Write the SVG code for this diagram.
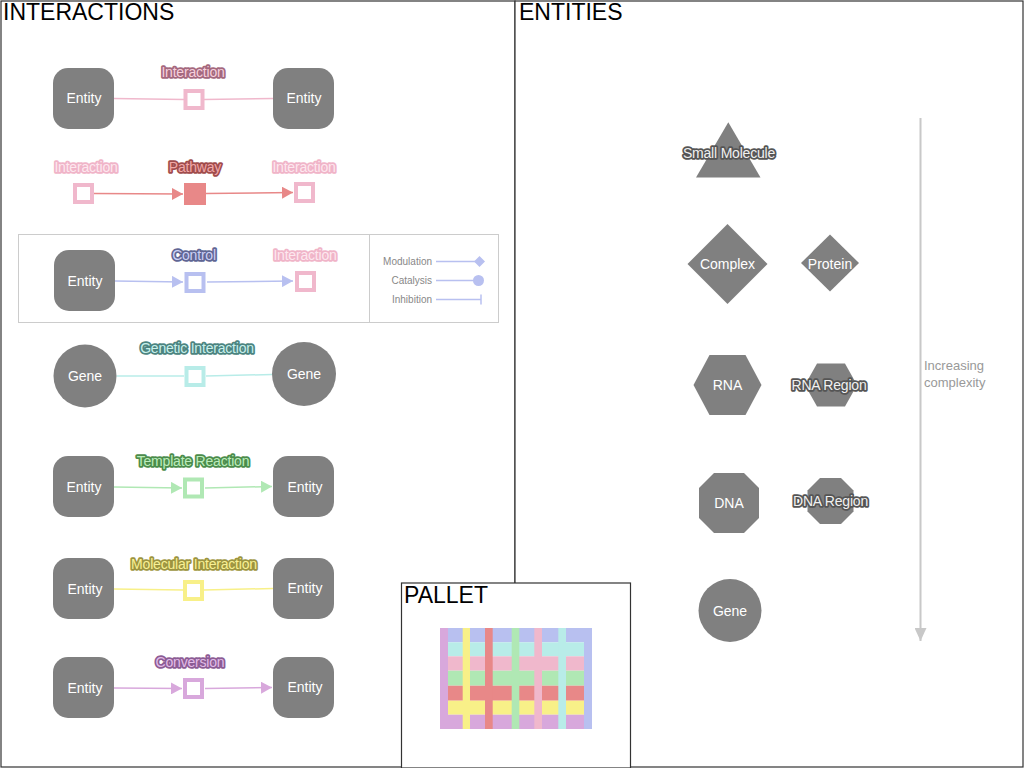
<svg xmlns="http://www.w3.org/2000/svg" width="1024" height="768" viewBox="0 0 1024 768">
<style>
.panel{fill:#fff;stroke:#333;stroke-width:1.2}
.title{font-family:"Liberation Sans",Arial,sans-serif;font-size:23px;fill:#000}
.ent{fill:#808080}
.etxt{font-family:"Liberation Sans",Arial,sans-serif;font-size:14px;fill:#fff;text-anchor:middle}
.lbl{font-family:"Liberation Sans",Arial,sans-serif;font-size:14px;text-anchor:middle;stroke-width:3.5;paint-order:stroke;stroke-linejoin:round;letter-spacing:-0.2px}
.sq{fill:#fff;stroke-width:4}
.leg{font-family:"Liberation Sans",Arial,sans-serif;font-size:10px;fill:#888;text-anchor:end}
.pink{stroke:#f0b8cc}
.red{stroke:#e88888}
.blue{stroke:#b8c0f0}
.cyan{stroke:#b8ece8}
.green{stroke:#b0e8b4}
.yellow{stroke:#f8f088}
.purple{stroke:#d8a8dc}
.ln{fill:none;stroke-width:1.5}
</style>
<defs>
<marker id="arR" markerUnits="userSpaceOnUse" markerWidth="12" markerHeight="12" refX="11" refY="6" orient="auto"><path d="M0,0 L11,6 L0,12 Z" fill="#e88888"/></marker>
<marker id="arB" markerUnits="userSpaceOnUse" markerWidth="12" markerHeight="12" refX="11" refY="6" orient="auto"><path d="M0,0 L11,6 L0,12 Z" fill="#b8c0f0"/></marker>
<marker id="arG" markerUnits="userSpaceOnUse" markerWidth="12" markerHeight="12" refX="11" refY="6" orient="auto"><path d="M0,0 L11,6 L0,12 Z" fill="#b0e8b4"/></marker>
<marker id="arP" markerUnits="userSpaceOnUse" markerWidth="12" markerHeight="12" refX="11" refY="6" orient="auto"><path d="M0,0 L11,6 L0,12 Z" fill="#d8a8dc"/></marker>
<marker id="arGray" markerUnits="userSpaceOnUse" markerWidth="12" markerHeight="14" refX="6" refY="13" orient="0"><path d="M0,0 L12,0 L6,13 Z" fill="#c8c8c8"/></marker>
</defs>
<rect width="1024" height="768" fill="#fff"/>
<g id="panels">
<rect class="panel" x="1" y="1" width="514" height="766"/>
<rect class="panel" x="515" y="1" width="508" height="766"/>
<text class="title" x="3" y="20">INTERACTIONS</text>
<text class="title" x="519" y="20">ENTITIES</text>
</g>
<g id="control-box">
<rect x="18.5" y="234.5" width="480" height="88" fill="none" stroke="#cccccc" stroke-width="1"/>
<line x1="369.5" y1="234.5" x2="369.5" y2="322.5" stroke="#cccccc" stroke-width="1"/>
</g>
<g id="connectors">
<line class="ln pink" x1="114" y1="98.5" x2="184" y2="99.5"/>
<line class="ln pink" x1="204" y1="99.5" x2="273" y2="98.5"/>
<line class="ln red" x1="94" y1="193.5" x2="183" y2="194" marker-end="url(#arR)"/>
<line class="ln red" x1="206" y1="193.5" x2="293" y2="192.5" marker-end="url(#arR)"/>
<line class="ln blue" x1="115" y1="281" x2="183" y2="282" marker-end="url(#arB)"/>
<line class="ln blue" x1="207" y1="282" x2="293" y2="281" marker-end="url(#arB)"/>
<line class="ln cyan" x1="116.5" y1="376" x2="184" y2="376"/>
<line class="ln cyan" x1="206" y1="376" x2="272" y2="374.5"/>
<line class="ln green" x1="114" y1="487" x2="182" y2="488" marker-end="url(#arG)"/>
<line class="ln green" x1="205" y1="488" x2="272" y2="486.5" marker-end="url(#arG)"/>
<line class="ln yellow" x1="114" y1="589" x2="183" y2="590"/>
<line class="ln yellow" x1="204" y1="590" x2="273" y2="588.5"/>
<line class="ln purple" x1="114" y1="688" x2="182" y2="688.5" marker-end="url(#arP)"/>
<line class="ln purple" x1="205" y1="688.5" x2="272" y2="687.5" marker-end="url(#arP)"/>
<line x1="920.5" y1="118" x2="920.5" y2="641" stroke="#c8c8c8" stroke-width="2" marker-end="url(#arGray)"/>
</g>
<g id="row1-entity-a"><rect class="ent" x="53" y="68" width="61" height="61" rx="15"/><text class="etxt" x="84" y="103">Entity</text></g>
<g id="row1-interaction"><rect class="sq pink" x="185.5" y="91" width="17" height="17"/><text class="lbl" x="193" y="77" fill="#f6d0dc" stroke="#a4687e">Interaction</text></g>
<g id="row1-entity-b"><rect class="ent" x="273" y="68" width="61" height="61" rx="15"/><text class="etxt" x="304" y="103">Entity</text></g>
<g id="row2-interaction-a"><rect class="sq pink" x="75" y="185" width="17" height="17"/><text class="lbl" x="86" y="171.5" fill="#fde8ef" stroke="#f0b4c8">Interaction</text></g>
<g id="row2-pathway"><rect x="184" y="183" width="22" height="22" fill="#e88888"/><text class="lbl" x="195" y="171.5" fill="#f0a8a8" stroke="#a04c4c">Pathway</text></g>
<g id="row2-interaction-b"><rect class="sq pink" x="296" y="184" width="17" height="17"/><text class="lbl" x="304" y="171.5" fill="#fde8ef" stroke="#f0b4c8">Interaction</text></g>
<g id="control-entity"><rect class="ent" x="54" y="250" width="61" height="61" rx="15"/><text class="etxt" x="85" y="285.5">Entity</text></g>
<g id="control"><rect class="sq blue" x="186.5" y="274" width="17" height="17"/><text class="lbl" x="194" y="259.5" fill="#ccd0f6" stroke="#606694">Control</text></g>
<g id="control-interaction"><rect class="sq pink" x="297" y="273" width="17" height="17"/><text class="lbl" x="305" y="259.5" fill="#fde8ef" stroke="#f0b4c8">Interaction</text></g>
<g id="legend">
<text class="leg" x="432" y="265">Modulation</text>
<line class="ln blue" x1="436" y1="261.5" x2="476" y2="261.5"/>
<path d="M479.5,256 L485,261.5 L479.5,267 L474,261.5 Z" fill="#b8c0f0"/>
<text class="leg" x="432" y="284">Catalysis</text>
<line class="ln blue" x1="436" y1="280.5" x2="474" y2="280.5"/>
<circle cx="478.5" cy="280.5" r="5.5" fill="#b8c0f0"/>
<text class="leg" x="432" y="303">Inhibition</text>
<line class="ln blue" x1="436" y1="299.5" x2="481" y2="299.5"/>
<line class="ln blue" x1="481" y1="294.5" x2="481" y2="304.5"/>
</g>
<g id="gene-a"><circle class="ent" cx="85" cy="376" r="31.5"/><text class="etxt" x="85" y="381">Gene</text></g>
<g id="genetic-interaction"><rect class="sq cyan" x="186.5" y="368" width="17" height="17"/><text class="lbl" x="197" y="352.5" fill="#c8f0ec" stroke="#4c8480">Genetic Interaction</text></g>
<g id="gene-b"><circle class="ent" cx="304" cy="374" r="32"/><text class="etxt" x="304" y="379">Gene</text></g>
<g id="template-entity-a"><rect class="ent" x="53" y="456" width="61" height="61" rx="15"/><text class="etxt" x="84" y="491.5">Entity</text></g>
<g id="template-reaction"><rect class="sq green" x="185" y="479.5" width="17" height="17"/><text class="lbl" x="193" y="466" fill="#bcecbc" stroke="#4c8c4c">Template Reaction</text></g>
<g id="template-entity-b"><rect class="ent" x="273" y="456" width="61" height="61" rx="15"/><text class="etxt" x="305" y="491.5">Entity</text></g>
<g id="molecular-entity-a"><rect class="ent" x="53" y="558" width="61" height="61" rx="15"/><text class="etxt" x="85" y="593.5">Entity</text></g>
<g id="molecular-interaction"><rect class="sq yellow" x="185" y="582" width="17" height="17"/><text class="lbl" x="194" y="568.5" fill="#f8f094" stroke="#9c9440">Molecular Interaction</text></g>
<g id="molecular-entity-b"><rect class="ent" x="273" y="558" width="61" height="61" rx="15"/><text class="etxt" x="305" y="593">Entity</text></g>
<g id="conversion-entity-a"><rect class="ent" x="53" y="657" width="61" height="61" rx="15"/><text class="etxt" x="85" y="692.5">Entity</text></g>
<g id="conversion"><rect class="sq purple" x="185" y="680" width="17" height="17"/><text class="lbl" x="190" y="667" fill="#e2bce8" stroke="#8c5c94">Conversion</text></g>
<g id="conversion-entity-b"><rect class="ent" x="273" y="657" width="61" height="61" rx="15"/><text class="etxt" x="305" y="692">Entity</text></g>
<g id="small-molecule"><path class="ent" d="M728.3,122.3 L760.5,177.5 L696,177.5 Z"/><text class="lbl" x="729" y="157.5" fill="#f0f0f0" stroke="#555">Small Molecule</text></g>
<g id="complex"><path class="ent" d="M727.5,224 L767.5,264 L727.5,304 L687.5,264 Z"/><text class="etxt" x="727.5" y="269">Complex</text></g>
<g id="protein"><path class="ent" d="M830,234.5 L859,263 L830,291.5 L801,263 Z"/><text class="etxt" x="830" y="268.5">Protein</text></g>
<g id="rna"><path class="ent" d="M709.5,355 L745.5,355 L761.5,385 L745.5,415 L709.5,415 L693.5,385 Z"/><text class="etxt" x="727.5" y="390">RNA</text></g>
<g id="rna-region"><path class="ent" d="M817,363.5 L845,363.5 L857,385 L845,406.5 L817,406.5 L805,385 Z"/><text class="lbl" x="829" y="390" fill="#f0f0f0" stroke="#555">RNA Region</text></g>
<g id="dna"><path class="ent" d="M714,473 L744,473 L759,488 L759,518 L744,533 L714,533 L699,518 L699,488 Z"/><text class="etxt" x="729" y="508">DNA</text></g>
<g id="dna-region"><path class="ent" d="M820,478 L841,478 L853.5,490.5 L853.5,511.5 L841,524 L820,524 L807.5,511.5 L807.5,490.5 Z"/><text class="lbl" x="830.5" y="505.5" fill="#f0f0f0" stroke="#555">DNA Region</text></g>
<g id="gene-entity"><circle class="ent" cx="730" cy="610.5" r="31.5"/><text class="etxt" x="730" y="615.5">Gene</text></g>
<g id="complexity-note"><text font-family="Liberation Sans,Arial,sans-serif" font-size="13" fill="#999"><tspan x="924" y="370">Increasing</tspan><tspan x="924" y="387">complexity</tspan></text></g>
<g id="pallet">
<rect class="panel" x="401.5" y="583" width="229" height="185"/>
<text class="title" x="404" y="603">PALLET</text>
<rect x="448" y="628" width="136" height="14.3" fill="#b8c0f0"/>
<rect x="448" y="642.3" width="136" height="14" fill="#b8ece8"/>
<rect x="448" y="656.3" width="136" height="14.4" fill="#f0b8cc"/>
<rect x="448" y="670.7" width="136" height="15" fill="#b0e8b4"/>
<rect x="448" y="685.7" width="136" height="15" fill="#e88888"/>
<rect x="448" y="700.7" width="136" height="14" fill="#f8f088"/>
<rect x="448" y="714.7" width="136" height="14.3" fill="#d8a8dc"/>
<rect x="440" y="628" width="8" height="101" fill="#d8a8dc"/>
<rect x="584" y="628" width="8" height="101" fill="#b8c0f0"/>
<rect x="462.7" y="628" width="7.3" height="101" fill="#f8f088"/>
<rect x="485" y="628" width="7.7" height="101" fill="#e88888"/>
<rect x="511.7" y="628" width="7.6" height="101" fill="#b0e8b4"/>
<rect x="534.3" y="628" width="7.7" height="101" fill="#f0b8cc"/>
<rect x="558.3" y="628" width="7.7" height="101" fill="#b8ece8"/>
</g>
</svg>
